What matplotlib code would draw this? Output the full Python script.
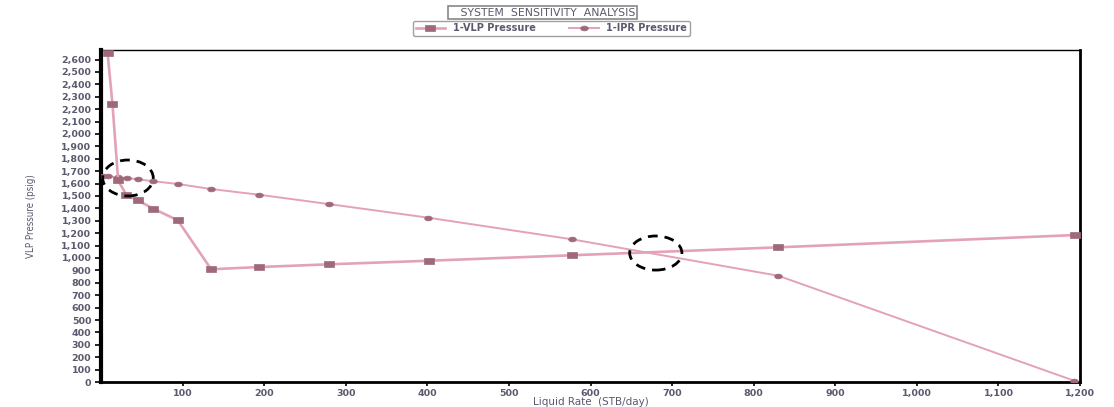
import numpy as np
import matplotlib
matplotlib.use("Agg")
import matplotlib.pyplot as plt
from matplotlib.path import Path
from matplotlib.patches import Ellipse
from matplotlib.ticker import FuncFormatter, MultipleLocator

# VLP curve (square markers)
vlp_rate = [8, 14, 21, 31, 45, 64, 94, 135, 194, 279, 402, 577, 830, 1194]
vlp_press = [2655, 2242, 1625, 1508, 1465, 1398, 1304, 909, 927, 949, 978, 1022, 1086, 1185]

# IPR curve (round markers)
ipr_rate = [2, 9, 21, 32, 45, 64, 94, 135, 194, 279, 401, 577, 830, 1193]
ipr_press = [1664, 1660, 1650, 1645, 1635, 1619, 1597, 1556, 1510, 1435, 1325, 1151, 857, 10]

# dashed circles marking the operating points
circ_x = [33, 680]
circ_y = [1645, 1040]
circ_w = [62, 64]
circ_h = [290, 275]

line_col = "#e2a3b6"
mark_col = "#9e6a7a"
text_col = "#5a5a6e"

# rectangle / flat ellipse markers
rect = Path([(-1.7, -1), (1.7, -1), (1.7, 1), (-1.7, 1), (-1.7, -1)],
            [Path.MOVETO, Path.LINETO, Path.LINETO, Path.LINETO, Path.CLOSEPOLY])
th = np.linspace(0, 2 * np.pi, 40)
oval = Path(np.column_stack([1.6 * np.cos(th), np.sin(th)]))

fig = plt.figure(figsize=(11.14, 4.07), dpi=100, facecolor='w')
ax = fig.add_axes([0.0907, 0.0614, 0.8788, 0.8157])

ax.plot(ipr_rate, ipr_press, color=line_col, lw=1.4, marker=oval, ms=5.5,
        mfc=mark_col, mec=mark_col, mew=0.5, label='1-IPR Pressure', zorder=3)
ax.plot(vlp_rate, vlp_press, color=line_col, lw=1.9, marker=rect, ms=7,
        mfc=mark_col, mec=mark_col, mew=0.5, label='1-VLP Pressure', zorder=4)

for cx, cy, w, h in zip(circ_x, circ_y, circ_w, circ_h):
    ax.add_patch(Ellipse((cx, cy), w, h, fill=False, ec='k', lw=2,
                         ls=(0, (3.5, 2.5)), zorder=5))

ax.set_xlim(0, 1200)
ax.set_ylim(0, 2677)
ax.set_xticks(np.arange(100, 1201, 100))
ax.yaxis.set_major_locator(MultipleLocator(100))
fmt = FuncFormatter(lambda v, p: f"{int(v):,}")
ax.xaxis.set_major_formatter(fmt)
ax.yaxis.set_major_formatter(fmt)
ax.tick_params(axis='both', direction='out', labelsize=6.8, colors='k',
               labelcolor=text_col, width=1.2)
ax.tick_params(axis='y', length=4, pad=3)
ax.tick_params(axis='x', length=3, pad=2)
for lab in ax.get_xticklabels() + ax.get_yticklabels():
    lab.set_fontweight('bold')

ax.spines['left'].set_linewidth(3)
ax.spines['bottom'].set_linewidth(2)
ax.spines['right'].set_linewidth(2)
ax.spines['top'].set_linewidth(1)

ax.set_xlabel('Liquid Rate  (STB/day)', fontsize=7.5, color=text_col, labelpad=-1)
ax.set_ylabel('VLP Pressure (psig)', fontsize=7, color=text_col,
              fontstretch='condensed', labelpad=18)

fig.text(0.487, 0.969, '   SYSTEM  SENSITIVITY  ANALYSIS', ha='center', va='center',
         fontsize=7.8, color=text_col,
         bbox=dict(boxstyle='square,pad=0.15', fc='w', ec='#888888', lw=1.2))

h, l = ax.get_legend_handles_labels()
fig.legend(h[::-1], l[::-1], loc='center', bbox_to_anchor=(0.495, 0.93), ncol=2,
           frameon=True, edgecolor='#888888', fancybox=True,
           handlelength=3, columnspacing=3.5, borderpad=0.3,
           prop={'weight': 'bold', 'size': 7}, labelcolor=text_col)

fig.savefig('out.png', dpi=100)
